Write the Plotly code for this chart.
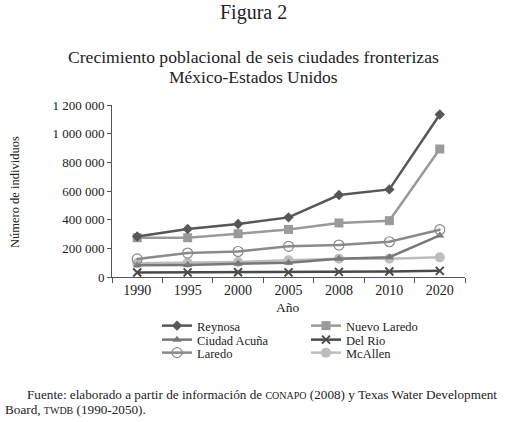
import plotly.graph_objects as go

years = ["1990", "1995", "2000", "2005", "2008", "2010", "2020"]
reynosa = [283000, 335000, 370000, 416000, 572000, 611000, 1134000]
nuevo_laredo = [274000, 274000, 302000, 332000, 377000, 393000, 893000]
ciudad_acuna = [82000, 84000, 92000, 100000, 128000, 138000, 290000]
del_rio = [31000, 32000, 33000, 32000, 36000, 38000, 43000]
laredo = [126000, 167000, 178000, 214000, 223000, 246000, 330000]
mcallen = [96000, 100000, 105000, 117000, 128000, 128000, 137000]

y_ticks = [0, 200000, 400000, 600000, 800000, 1000000, 1200000]
y_tick_labels = ["0", "200 000", "400 000", "600 000", "800 000", "1 000 000", "1 200 000"]

W, H = 506, 422
L, R, T, B = 112, 41, 105, 145
pw, ph = W - L - R, H - T - B

def px_x(x):
    return (x - L) / pw

def px_y(y):
    return (H - B - y) / ph

FONT = "Liberation Serif"

fig = go.Figure()

# name, values, colour, symbol, size, legend id
series = [
    ("Reynosa", reynosa, "#575757", "diamond", 8, "legend"),
    ("Nuevo Laredo", nuevo_laredo, "#9a9a9a", "square", 9, "legend2"),
    ("Ciudad Acuña", ciudad_acuna, "#787878", "triangle-up", 8, "legend3"),
    ("Del Rio", del_rio, "#4a4a4a", "x-thin-open", 8, "legend4"),
    ("Laredo", laredo, "#8a8a8a", "circle-open-dot", 10, "legend5"),
    ("McAllen", mcallen, "#bdbdbd", "circle", 10, "legend6"),
]

draw_order = ["Del Rio", "McAllen", "Ciudad Acuña", "Laredo", "Nuevo Laredo", "Reynosa"]
sd = {s[0]: s for s in series}
for name in draw_order:
    n, vals, col, sym, sz, lg = sd[name]
    marker = dict(symbol=sym, size=sz, color=col)
    if sym == "x-thin-open":
        marker["line"] = dict(color=col, width=2)
    if sym == "circle-open-dot":
        marker["line"] = dict(color=col, width=1.2)
    fig.add_trace(go.Scatter(
        x=years, y=vals, name=n, mode="lines+markers",
        line=dict(color=col, width=2.5), marker=marker,
        legend=lg,
    ))

legend_pos = {
    "legend": (157, 326), "legend2": (306, 326),
    "legend3": (157, 340), "legend4": (306, 340),
    "legend5": (157, 353), "legend6": (306, 353),
}
legend_layout = {}
for key, (lx, ly) in legend_pos.items():
    legend_layout[key] = dict(
        x=px_x(lx), y=px_y(ly), xanchor="left", yanchor="middle",
        orientation="v", font=dict(size=12.5, family=FONT, color="#222"),
        bgcolor="rgba(0,0,0,0)", itemwidth=30, borderwidth=0,
    )

fig.update_layout(
    width=W, height=H,
    margin=dict(l=L, r=R, t=T, b=B, pad=0, autoexpand=False),
    paper_bgcolor="white", plot_bgcolor="white",
    font=dict(family=FONT, color="#222222", size=13),
    showlegend=True,
    **legend_layout,
)

fig.update_xaxes(
    type="category", categoryorder="array", categoryarray=years,
    range=[-0.5, len(years) - 0.5], automargin=False,
    showline=True, linecolor="#555555", linewidth=1,
    ticks="outside", tickson="boundaries", ticklen=5, tickcolor="#555555",
    showgrid=False, zeroline=False,
    tickfont=dict(size=14, family=FONT, color="#222"),
)
fig.update_yaxes(
    range=[0, 1200000], tickvals=y_ticks, ticktext=y_tick_labels, automargin=False,
    showline=True, linecolor="#555555", linewidth=1,
    ticks="outside", ticklen=4, tickcolor="#555555",
    showgrid=False, zeroline=False,
    tickfont=dict(size=13, family=FONT, color="#222"),
)

def note(text, x, y, size, xanchor="center", angle=0):
    fig.add_annotation(text=text, x=px_x(x), y=px_y(y), xref="paper", yref="paper",
                       showarrow=False, xanchor=xanchor, yanchor="middle", textangle=angle,
                       font=dict(size=size, family=FONT, color="#222"))

note("Figura 2", 253, 13, 20)
note("Crecimiento poblacional de seis ciudades fronterizas", 253, 57, 17.6)
note("México-Estados Unidos", 253, 77, 17.5)
note("Número de individuos", 15, 192, 12.5, angle=-90)
note("Año", 287, 307, 13.5)
note("Fuente: elaborado a partir de información de <span style='font-size:10px'>CONAPO</span> (2008) y Texas Water Development",
     25, 394, 13.2, xanchor="left")
note("Board, <span style='font-size:10px'>TWDB</span> (1990-2050).", 3, 409, 13.2, xanchor="left")

fig.write_html("out.html", config={"displayModeBar": False},
               post_script="document.body.style.margin='0';document.body.style.overflow='hidden';")
